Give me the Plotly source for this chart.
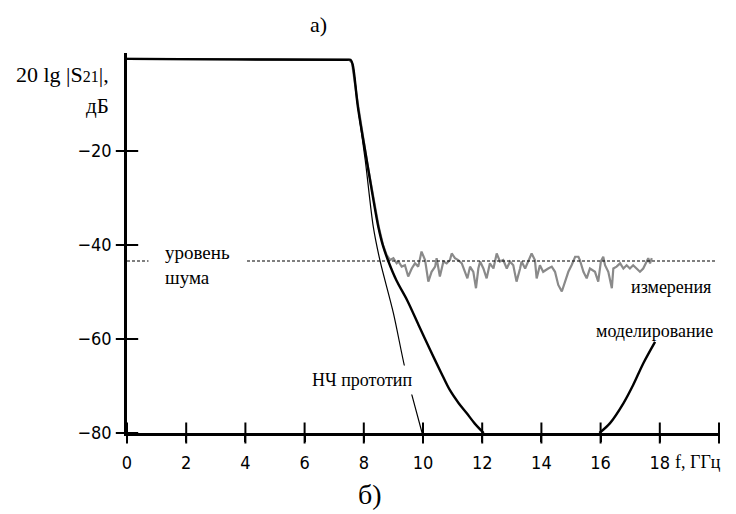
import plotly.graph_objects as go

# Measured transmission |S21| (GHz, dB)
f_meas = [0, 2, 4, 6, 7.5, 7.6, 7.8, 8.1, 8.5, 8.65, 8.77,
          8.89, 9.00, 9.11, 9.17, 9.28, 9.39, 9.50, 9.62, 9.73, 9.84,
          9.95, 10.07, 10.18, 10.29, 10.41, 10.46, 10.57, 10.69, 10.80, 10.91,
          10.97, 11.08, 11.19, 11.31, 11.42, 11.50, 11.59, 11.70, 11.79, 11.87,
          11.93, 12.04, 12.15, 12.26, 12.38, 12.49, 12.60, 12.71, 12.83, 12.94,
          13.05, 13.16, 13.28, 13.33, 13.45, 13.56, 13.67, 13.78, 13.84, 13.95,
          14.06, 14.23, 14.35, 14.46, 14.57, 14.69, 14.80, 14.91, 15.02, 15.14,
          15.25, 15.30, 15.42, 15.53, 15.64, 15.81, 15.92, 16.01, 16.09, 16.15,
          16.26, 16.38, 16.43, 16.54, 16.66, 16.77, 16.88, 16.99, 17.10, 17.22,
          17.33, 17.44, 17.56, 17.61, 17.67, 17.73]
db_meas = [-0.4, -0.5, -0.6, -0.6, -0.6, -1.2, -10.0, -22.0, -36.0, -40.0, -42.1,
           -43.2, -42.8, -43.9, -43.5, -44.6, -44.3, -46.7, -45.0, -43.9, -44.6,
           -41.4, -43.2, -47.8, -45.7, -44.6, -42.8, -46.7, -43.5, -43.9, -43.2,
           -41.8, -42.8, -43.2, -43.9, -45.7, -47.1, -44.6, -45.7, -49.2, -45.0,
           -43.5, -45.0, -47.1, -43.9, -45.0, -41.8, -43.5, -43.2, -45.0, -43.5,
           -44.3, -47.8, -45.0, -43.5, -45.0, -43.2, -41.8, -43.2, -47.1, -44.3,
           -45.7, -45.0, -44.6, -45.7, -48.5, -49.9, -47.8, -45.7, -44.3, -42.5,
           -42.5, -43.2, -45.7, -47.1, -45.0, -45.7, -47.8, -43.5, -42.5, -44.3,
           -45.7, -49.2, -45.0, -44.6, -43.9, -45.0, -44.3, -45.0, -44.3, -45.0,
           -45.7, -45.0, -43.5, -42.8, -43.9, -42.8]

# Simulated response (two visible branches inside the -80 dB window)
f_sim = [0, 3.7, 7.4, 7.55, 7.62, 7.8, 8.1, 8.3, 8.49, 8.65, 8.82, 9.1, 9.46, 9.85, 10.24, 10.6,
         10.91, 11.2, 11.48, 11.75, 12.05,
         None, 15.96, 16.32, 16.77, 17.1, 17.44, 17.84]
db_sim = [-0.4, -0.5, -0.6, -0.6, -1.5, -10.6, -22.0, -29.5, -36.1, -40.2, -43.3, -47.5, -51.7, -57.0, -62.3, -67.0,
          -70.9, -73.6, -75.8, -78.0, -80.0,
          None, -80.0, -77.9, -73.7, -69.8, -65.2, -60.6]

# Lowpass prototype
f_proto = [0, 3.7, 7.4, 7.55, 7.62, 7.8, 8.05, 8.32, 8.55, 9.0, 9.39, 9.73, 9.97]
db_proto = [-0.5, -0.5, -0.6, -0.6, -1.5, -10.6, -22.0, -36.1, -43.4, -54.5, -66.2, -74.4, -80.0]

# Noise floor of the measurement setup
noise_level = -43.4
noise_span = [0, 19.9]

x_ticks = [0, 2, 4, 6, 8, 10, 12, 14, 16, 18, 20]
x_tick_text = ["0", "2", "4", "6", "8", "10", "12", "14", "16", "18", ""]
y_ticks = [-80, -60, -40, -20]
y_tick_text = ["−80", "−60", "−40", "−20"]

X_RANGE = [0, 20]
Y_RANGE = [-80, 0.85]

SERIF = "Liberation Serif, Times New Roman, serif"
SANS = "DejaVu Sans Condensed, Liberation Sans, Arial, sans-serif"

fig = go.Figure()

fig.add_trace(go.Scatter(x=f_meas, y=db_meas, mode="lines",
                         line=dict(color="#8a8a8a", width=2.2), name="измерения"))
fig.add_trace(go.Scatter(x=f_proto, y=db_proto, mode="lines",
                         line=dict(color="black", width=1.2, shape="spline", smoothing=0.8),
                         name="НЧ прототип"))
fig.add_trace(go.Scatter(x=f_sim, y=db_sim, mode="lines", connectgaps=False,
                         line=dict(color="black", width=2.4, shape="spline", smoothing=0.9),
                         name="моделирование"))
fig.add_trace(go.Scatter(x=noise_span, y=[noise_level, noise_level], mode="lines",
                         line=dict(color="black", width=1.2, dash="3px,2px"),
                         name="уровень шума"))

# tick marks that cross both axis lines
fig.add_trace(go.Scatter(x=x_ticks, y=[Y_RANGE[0]] * len(x_ticks), mode="markers",
                         cliponaxis=False, hoverinfo="skip",
                         marker=dict(symbol="line-ns", size=15, color="black",
                                     line=dict(color="black", width=2))))
fig.add_trace(go.Scatter(x=[X_RANGE[0]] * len(y_ticks), y=y_ticks, mode="markers",
                         cliponaxis=False, hoverinfo="skip",
                         marker=dict(symbol="line-ew", size=16, color="black",
                                     line=dict(color="black", width=2))))

axis_common = dict(showgrid=False, zeroline=False, tickcolor="black", tickwidth=2,
                   showline=True, linecolor="black", linewidth=2.5,
                   tickfont=dict(family=SANS, size=18, color="black"))

fig.update_layout(
    width=736, height=514,
    margin=dict(l=127, r=17, t=53, b=81),
    paper_bgcolor="white", plot_bgcolor="white",
    showlegend=False,
    xaxis=dict(range=X_RANGE, tickvals=x_ticks, ticktext=x_tick_text,
               ticks="outside", ticklen=6, ticklabelstandoff=6, **axis_common),
    yaxis=dict(range=Y_RANGE, tickvals=y_ticks, ticktext=y_tick_text,
               ticks="outside", ticklen=5, ticklabelstandoff=4, **axis_common),
)

PLOT_L, PLOT_W, PLOT_B, PLOT_H = 127, 592, 433, 380


def px(xp, yp):
    return (xp - PLOT_L) / PLOT_W, (PLOT_B - yp) / PLOT_H


def text_note(txt, xp, yp, size, xanchor="center", bg=None, pad=1):
    x, y = px(xp, yp)
    fig.add_annotation(text=txt, x=x, y=y, xref="paper", yref="paper",
                       xanchor=xanchor, yanchor="middle", showarrow=False,
                       align="left", bgcolor=bg, borderpad=pad,
                       font=dict(family=SERIF, size=size, color="black"))


text_note("а)", 318, 25, 22)
text_note("б)", 370, 494, 28)
text_note("20 lg |S<span style='font-size:16px'>21</span>|,", 111, 75, 22, xanchor="right")
text_note("дБ", 111, 106, 21, xanchor="right")
text_note("f, ГГц", 673, 462, 18, xanchor="left")
text_note("уровень<br>шума", 148, 265, 19, xanchor="left", bg="white", pad=16)
text_note("НЧ прототип", 362, 380, 18, bg="white", pad=4)
text_note("измерения", 629, 287, 18, xanchor="left")
text_note("моделирование", 594, 331, 18, xanchor="left")

fig.write_html("out.html")
